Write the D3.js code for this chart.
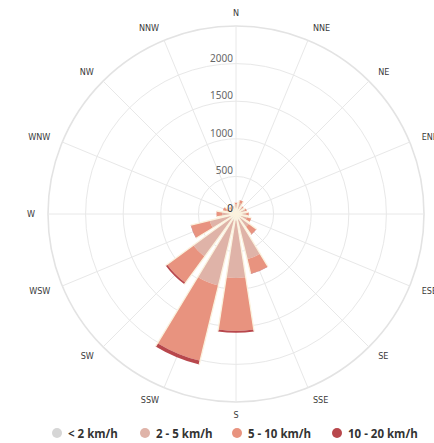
<!DOCTYPE html>
<html>
<head>
<meta charset="utf-8">
<script src="https://cdn.jsdelivr.net/npm/d3@7"></script>
<style>
  html, body { margin: 0; padding: 0; background: #fff; overflow: hidden; }
  svg { display: block; }
</style>
</head>
<body>
<svg id="chart" width="434" height="443"></svg>
<script>
// ---- data ----
const directions = ["N","NNE","NE","ENE","E","ESE","SE","SSE","S","SSW","SW","WSW","W","WNW","NW","NNW"];
const seriesNames = ["< 2 km/h", "2 - 5 km/h", "5 - 10 km/h", "10 - 20 km/h"];
const lt2   = [70, 70, 65, 65, 70, 70, 75, 80, 85, 90, 85, 80, 75, 70, 65, 65];
const s2to5 = [60, 80, 50, 60, 65, 80, 140, 540, 765, 890, 620, 280, 110, 70, 40, 35];
const s5to10= [20, 40, 15, 25, 35, 60, 120, 195, 705, 1030, 430, 255, 75, 40, 15, 10];
const s10to20=[0, 0, 0, 0, 0, 0, 5, 5, 25, 50, 25, 5, 0, 0, 0, 0];
const yTicks = [0, 500, 1000, 1500, 2000];
const yMax = 2500;
const colors = ["#d6d6d6", "#dfb3a8", "#e8937f", "#b8474c"];

// ---- layout ----
const svg = d3.select("#chart");
const cx = 236, cy = 214, R = 188;
const g = svg.append("g").attr("transform", `translate(${cx},${cy})`);

const r = d3.scaleLinear().domain([0, yMax]).range([0, R]);
const step = 2 * Math.PI / directions.length;
const angle = d3.scaleBand().domain(directions).range([-step / 2, 2 * Math.PI - step / 2]).paddingInner(0.22).paddingOuter(0.11);
const centerAngle = d => angle(d) + angle.bandwidth() / 2;

// grid rings
const rings = yTicks.filter(v => v > 0);
g.selectAll("circle.ring").data(rings).join("circle")
  .attr("r", d => r(d)).attr("fill", "none")
  .attr("stroke", "#e8e8e8").attr("stroke-width", 1);
g.append("circle").attr("r", r(yMax)).attr("fill", "none")
  .attr("stroke", "#e3e3e3").attr("stroke-width", 1.6);

// spokes
g.selectAll("line.spoke").data(directions).join("line")
  .attr("x1", 0).attr("y1", 0)
  .attr("x2", d => R * Math.sin(centerAngle(d)))
  .attr("y2", d => -R * Math.cos(centerAngle(d)))
  .attr("stroke", "#e8e8e8").attr("stroke-width", 1);

// stacked data
const table = directions.map((d, i) => ({
  dir: d, s0: lt2[i], s1: s2to5[i], s2: s5to10[i], s3: s10to20[i]
}));
const stack = d3.stack().keys(["s0", "s1", "s2", "s3"]);
const stacked = stack(table);

const arc = d3.arc()
  .innerRadius(d => r(d[0]))
  .outerRadius(d => r(d[1]))
  .startAngle(d => angle(d.data.dir))
  .endAngle(d => angle(d.data.dir) + angle.bandwidth());

g.selectAll("g.series").data(stacked).join("g")
  .attr("fill", (d, i) => colors[i])
  .selectAll("path").data(d => d).join("path")
  .attr("d", arc);

// cream side edges of the bars
const totals = table.map(t => t.s0 + t.s1 + t.s2 + t.s3);
const edges = [];
directions.forEach((d, i) => {
  edges.push({ a: angle(d), v: totals[i] });
  edges.push({ a: angle(d) + angle.bandwidth(), v: totals[i] });
});
g.selectAll("line.edge").data(edges).join("line")
  .attr("x1", 0).attr("y1", 0)
  .attr("x2", d => r(d.v) * Math.sin(d.a))
  .attr("y2", d => -r(d.v) * Math.cos(d.a))
  .attr("stroke", "#fbf2de").attr("stroke-width", 1.3);

// y axis labels
g.selectAll("text.ytick").data(yTicks).join("text")
  .attr("x", -3).attr("y", d => -r(d) - 2)
  .attr("text-anchor", "end")
  .attr("font-family", "Noto Sans, sans-serif")
  .attr("font-size", 10)
  .attr("fill", d => d === 0 ? "#333" : "#666")
  .text(d => d);

// direction labels
const LR = 201;
g.selectAll("text.dir").data(directions).join("text")
  .attr("x", d => LR * Math.sin(centerAngle(d)))
  .attr("y", d => -LR * Math.cos(centerAngle(d)))
  .attr("text-anchor", d => {
    const s = Math.sin(centerAngle(d));
    return s > 0.01 ? "start" : (s < -0.01 ? "end" : "middle");
  })
  .attr("dominant-baseline", "central")
  .attr("font-family", "DejaVu Sans Condensed, DejaVu Sans, sans-serif")
  .attr("font-size", 9)
  .attr("fill", "#3a3a3a")
  .text(d => d);

// legend
const legendX = [57, 145, 237, 337];
const legendY = 433;
const leg = svg.append("g");
seriesNames.forEach((name, i) => {
  leg.append("circle").attr("cx", legendX[i]).attr("cy", legendY).attr("r", 5).attr("fill", colors[i]);
  leg.append("text").attr("x", legendX[i] + 11).attr("y", legendY)
    .attr("dominant-baseline", "central")
    .attr("font-family", "Open Sans, sans-serif")
    .attr("font-weight", "bold").attr("font-size", 11.5)
    .attr("fill", "#333").text(name);
});
</script>
</body>
</html>
